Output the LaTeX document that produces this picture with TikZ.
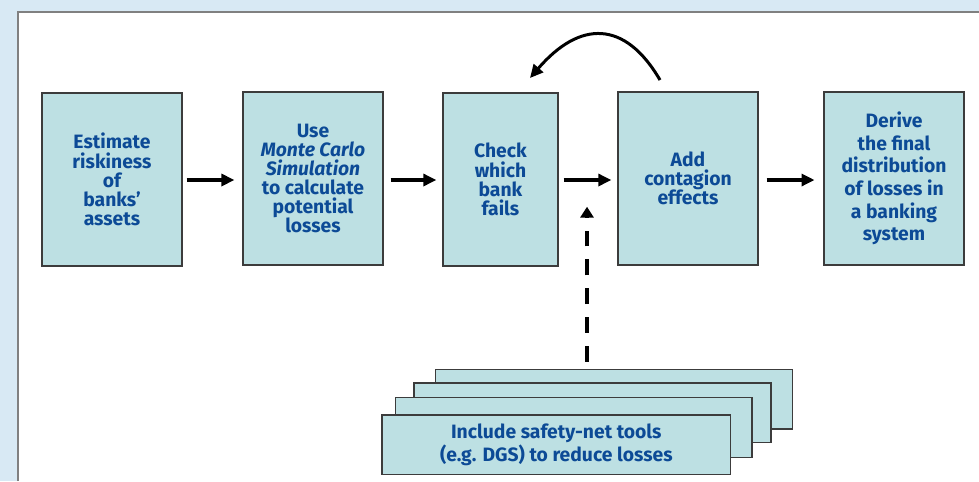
\documentclass[tikz,border=0pt]{standalone}
\usepackage{fontspec}
\setsansfont{Fira Sans}
\usepackage{xcolor}
\usetikzlibrary{arrows.meta}
\usetikzlibrary{positioning}
\usetikzlibrary{calc}

\definecolor{panelbg}{HTML}{D8E9F4}
\definecolor{boxfill}{HTML}{BDE0E3}
\definecolor{boxtext}{HTML}{0C4A96}
\definecolor{boxline}{HTML}{3C3C3C}

\tikzset{
	stepbox/.style={draw=boxline, line width=0.8pt, fill=boxfill, text=boxtext,
		minimum width=2.8cm, minimum height=3.46cm, align=center,
		font=\sffamily\bfseries\fontsize{11}{10.9}\selectfont, inner sep=0pt},
	stackbox/.style={draw=boxline, line width=0.8pt, fill=boxfill, text=boxtext,
		minimum width=7.14cm, minimum height=1.19cm, align=center,
		font=\sffamily\bfseries\fontsize{11}{11}\selectfont, inner sep=0pt},
	flow/.style={-{Triangle[length=7.4pt,width=6.8pt]}, line width=1.9pt},
}

\begin{document}
\begin{tikzpicture}[x=0.02cm, y=-0.02cm]

\useasboundingbox (0,0) rectangle (979,481);
\fill[panelbg] (0,0) rectangle (979,481);
\fill[white] (18,12) rectangle (979,481);
\draw[gray, line width=0.8pt] (18,481) -- (18,12) -- (979,12);

\node[stepbox] (risk) at (112,179.5) {Estimate\\riskiness\\of\\banks'\\assets};
\node[stepbox] (sim) at (313,178.5) {Use\\\textit{Monte Carlo}\\\textit{Simulation}\\to calculate\\potential\\losses};
\node[stepbox, minimum width=2.3cm] (fail) at (500.5,179.5) {Check\\which\\bank\\fails};
\node[stepbox] (cont) at (688,178.5) {Add\\contagion\\effects};
\node[stepbox, font=\sffamily\bfseries\fontsize{11}{12.9}\selectfont] (dist) at (894,178.5) {Derive\\the final\\distribution\\of losses in\\a banking\\system};

\draw[flow, shorten <=2.3pt, shorten >=4.5pt] (risk.east |- 0,180) -- (sim.west |- 0,180);
\draw[flow, shorten <=4pt, shorten >=3.4pt] (sim.east |- 0,180) -- (fail.west |- 0,180);
\draw[flow, shorten <=2.8pt, shorten >=3.4pt] (fail.east |- 0,180) -- (cont.west |- 0,180);
\draw[flow, shorten <=4.5pt, shorten >=5pt] (cont.east |- 0,180) -- (dist.west |- 0,180);

% contagion loop back
\coordinate (loopstart) at (660,80);
\coordinate (loopend) at (530,78);
\draw[-{Triangle[length=7.5pt,width=7pt]}, line width=1.7pt] (loopstart) .. controls (625,20) and (580,20) .. (loopend);

% safety-net stack
\node[stackbox] (net4) at (614.2,399.3) {};
\node[stackbox] (net3) at (592.4,412.8) {};
\node[stackbox] (net2) at (573.7,427.5) {};
\node[stackbox, minimum width=6.98cm] (net1) at (556.3,444.9) {Include safety-net tools\\(e.g. DGS) to reduce losses};

\coordinate (netup) at (587,361.7);
\coordinate (nettip) at (587,206.7);
\draw[-{Triangle[length=6.2pt,width=7.4pt]}, line width=2.5pt, dash pattern=on 9pt off 7.4pt] (netup) -- (nettip);

\end{tikzpicture}
\end{document}
